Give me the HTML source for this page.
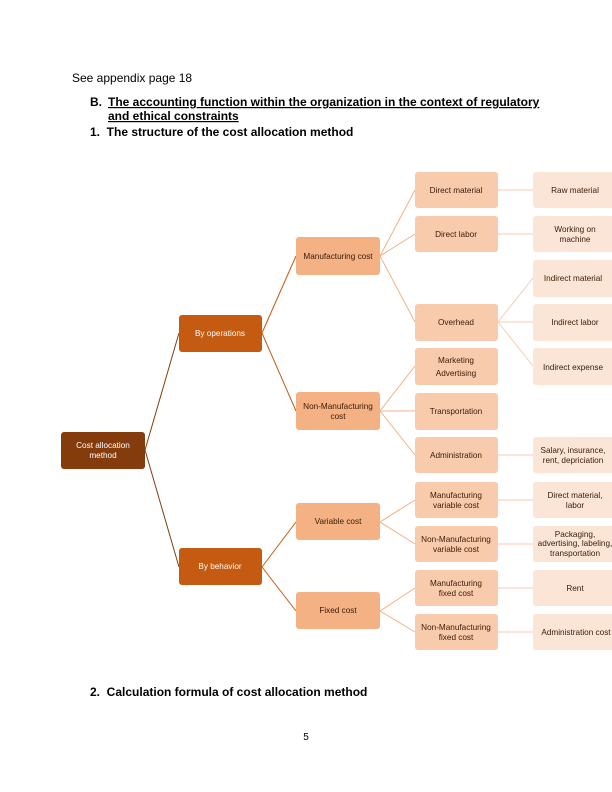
<!DOCTYPE html>
<html><head><meta charset="utf-8"><style>
body{margin:0;background:#fff}
svg{display:block}
.h{font-family:"Liberation Sans",Arial,sans-serif;fill:#000}
.d{font-family:"Liberation Sans",Arial,sans-serif;font-size:8.2px;text-anchor:middle}
</style></head><body>
<svg width="612" height="792" viewBox="0 0 612 792" xmlns="http://www.w3.org/2000/svg">
<text class="h" x="72" y="82" font-size="12">See appendix page 18</text>
<text class="h" x="90" y="106" font-size="12" font-weight="bold">B.</text>
<text class="h" x="108" y="106" font-size="12" font-weight="bold" text-decoration="underline">The accounting function within the organization in the context of regulatory</text>
<text class="h" x="108" y="120" font-size="12" font-weight="bold" text-decoration="underline">and ethical constraints</text>
<text class="h" x="90" y="136" font-size="12" font-weight="bold">1.&#160;&#160;The structure of the cost allocation method</text>
<text class="h" x="90" y="696" font-size="12" font-weight="bold">2.&#160;&#160;Calculation formula of cost allocation method</text>
<text class="h" x="306" y="740" font-size="10" text-anchor="middle">5</text>

<g fill="none" stroke-width="1">
<g stroke="#843c0c">
<path d="M145 450 L179 333 M145 450 L179 567"/>
</g>
<g stroke="#c55a11">
<path d="M262 333 L296 256 M262 333 L296 411 M262 567 L296 522 M262 567 L296 611"/>
</g>
<g stroke="#f4b183">
<path d="M380 256 L415 190 M380 256 L415 234 M380 256 L415 322"/>
<path d="M380 411 L415 366 M380 411 L415 411 M380 411 L415 455"/>
<path d="M380 522 L415 500 M380 522 L415 544 M380 611 L415 588 M380 611 L415 632"/>
</g>
<g stroke="#f8cbad">
<path d="M498 190 L533 190 M498 234 L533 234 M498 322 L533 278 M498 322 L533 322 M498 322 L533 366"/>
<path d="M498 455 L533 455 M498 500 L533 500 M498 544 L533 544 M498 588 L533 588 M498 632 L533 632"/>
</g>
</g>

<rect x="61" y="432" width="84" height="37" rx="3" fill="#843c0c"/>
<text class="d" fill="#fff" x="103" y="448">Cost allocation</text>
<text class="d" fill="#fff" x="103" y="458">method</text>

<rect x="179" y="315" width="83" height="37" rx="3" fill="#c55a11"/>
<text class="d" fill="#fff" x="220" y="336">By operations</text>
<rect x="179" y="548" width="83" height="37" rx="3" fill="#c55a11"/>
<text class="d" fill="#fff" x="220" y="569">By behavior</text>

<g fill="#f4b183">
<rect x="296" y="237" width="84" height="38" rx="3"/>
<rect x="296" y="392" width="84" height="38" rx="3"/>
<rect x="296" y="503" width="84" height="37" rx="3"/>
<rect x="296" y="592" width="84" height="37" rx="3"/>
</g>
<g fill="#3a1a05">
<text class="d" x="338" y="259">Manufacturing cost</text>
<text class="d" x="338" y="409">Non-Manufacturing</text>
<text class="d" x="338" y="419">cost</text>
<text class="d" x="338" y="524">Variable cost</text>
<text class="d" x="338" y="613">Fixed cost</text>
</g>

<g fill="#f8cbad">
<rect x="415" y="172" width="83" height="36" rx="3"/>
<rect x="415" y="216" width="83" height="36" rx="3"/>
<rect x="415" y="304" width="83" height="37" rx="3"/>
<rect x="415" y="348" width="83" height="37" rx="3"/>
<rect x="415" y="393" width="83" height="37" rx="3"/>
<rect x="415" y="437" width="83" height="36" rx="3"/>
<rect x="415" y="482" width="83" height="36" rx="3"/>
<rect x="415" y="526" width="83" height="36" rx="3"/>
<rect x="415" y="570" width="83" height="36" rx="3"/>
<rect x="415" y="614" width="83" height="36" rx="3"/>
</g>
<g fill="#3a1a05">
<text class="d" x="456" y="193">Direct material</text>
<text class="d" x="456" y="237">Direct labor</text>
<text class="d" x="456" y="325">Overhead</text>
<text class="d" x="456" y="363">Marketing</text>
<text class="d" x="456" y="376">Advertising</text>
<text class="d" x="456" y="414">Transportation</text>
<text class="d" x="456" y="458">Administration</text>
<text class="d" x="456" y="498">Manufacturing</text>
<text class="d" x="456" y="508">variable cost</text>
<text class="d" x="456" y="542">Non-Manufacturing</text>
<text class="d" x="456" y="552">variable cost</text>
<text class="d" x="456" y="586">Manufacturing</text>
<text class="d" x="456" y="596">fixed cost</text>
<text class="d" x="456" y="630">Non-Manufacturing</text>
<text class="d" x="456" y="640">fixed cost</text>
</g>

<g fill="#fbe5d6">
<rect x="533" y="172" width="86" height="36" rx="3"/>
<rect x="533" y="216" width="86" height="36" rx="3"/>
<rect x="533" y="260" width="86" height="37" rx="3"/>
<rect x="533" y="304" width="86" height="37" rx="3"/>
<rect x="533" y="348" width="86" height="37" rx="3"/>
<rect x="533" y="437" width="86" height="36" rx="3"/>
<rect x="533" y="482" width="86" height="36" rx="3"/>
<rect x="533" y="526" width="86" height="36" rx="3"/>
<rect x="533" y="570" width="86" height="36" rx="3"/>
<rect x="533" y="614" width="86" height="36" rx="3"/>
</g>
<g fill="#3a1a05">
<text class="d" x="575" y="193">Raw material</text>
<text class="d" x="575" y="232">Working on</text>
<text class="d" x="575" y="242">machine</text>
<text class="d" x="573" y="281">Indirect material</text>
<text class="d" x="575" y="325">Indirect labor</text>
<text class="d" x="573" y="370">Indirect expense</text>
<text class="d" x="573" y="453">Salary, insurance,</text>
<text class="d" x="573" y="463">rent, depriciation</text>
<text class="d" x="575" y="498">Direct material,</text>
<text class="d" x="575" y="508">labor</text>
<text class="d" x="575" y="537">Packaging,</text>
<text class="d" x="575" y="546">advertising, labeling,</text>
<text class="d" x="575" y="556">transportation</text>
<text class="d" x="575" y="591">Rent</text>
<text class="d" x="576" y="635">Administration cost</text>
</g>
</svg>
</body></html>
